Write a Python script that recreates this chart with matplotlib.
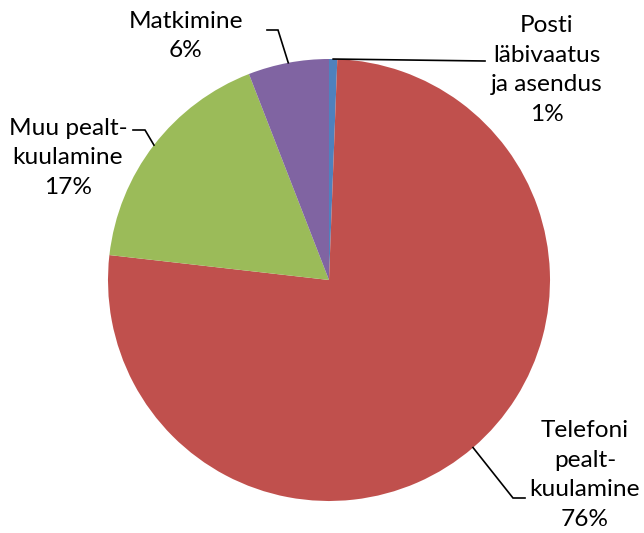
import matplotlib
matplotlib.use("Agg")
import matplotlib.pyplot as plt
import numpy as np

categories = ["Posti\nläbivaatus\nja asendus", "Telefoni\npealt-\nkuulamine",
              "Muu pealt-\nkuulamine", "Matkimine"]
values = [0.6, 76.2, 17.3, 5.9]
pct_labels = ["1%", "76%", "17%", "6%"]
colors = ["#4F81BD", "#C0504D", "#9BBB59", "#8064A2"]

W, H = 644, 533
CX, CY, R = 329, 280, 221

fig = plt.figure(figsize=(W / 100, H / 100), dpi=100)
ax = fig.add_axes([(CX - R) / W, (H - CY - R) / H, 2 * R / W, 2 * R / H])
wedges, _ = ax.pie(values, colors=colors, startangle=90, counterclock=False,
                   radius=1, frame=False, wedgeprops=dict(linewidth=0))
ax.set_xlim(-1, 1)
ax.set_ylim(-1, 1)
ax.set_aspect("equal")
ax.axis("off")


def px(x, y):
    return (x - CX) / R, (CY - y) / R


def edge(w, frac):
    a = np.deg2rad(w.theta1 + (w.theta2 - w.theta1) * frac)
    return np.cos(a), np.sin(a)


font = dict(family=["Lato", "DejaVu Sans"], fontsize=17.6, ha="center",
            va="center", linespacing=1.5, color="#000000")

# label positions (pixel) and leader line bends
label_pos = [(547, 70), (585, 475), (68, 158), (186, 36)]
leaders = [
    [(485, 61)],
    [(513, 498), (525, 498)],
    [(145, 130), (133, 130)],
    [(278, 30), (267, 30)],
]

for i, w in enumerate(wedges):
    ex, ey = edge(w, 0.5)
    pts = [(ex, ey)] + [px(*p) for p in leaders[i]]
    xs, ys = zip(*pts)
    ax.plot(xs, ys, color="black", linewidth=1.2, clip_on=False,
            solid_joinstyle="miter")
    lx, ly = px(*label_pos[i])
    ax.text(lx, ly, categories[i] + "\n" + pct_labels[i], **font)

fig.savefig("out.png", dpi=100)
